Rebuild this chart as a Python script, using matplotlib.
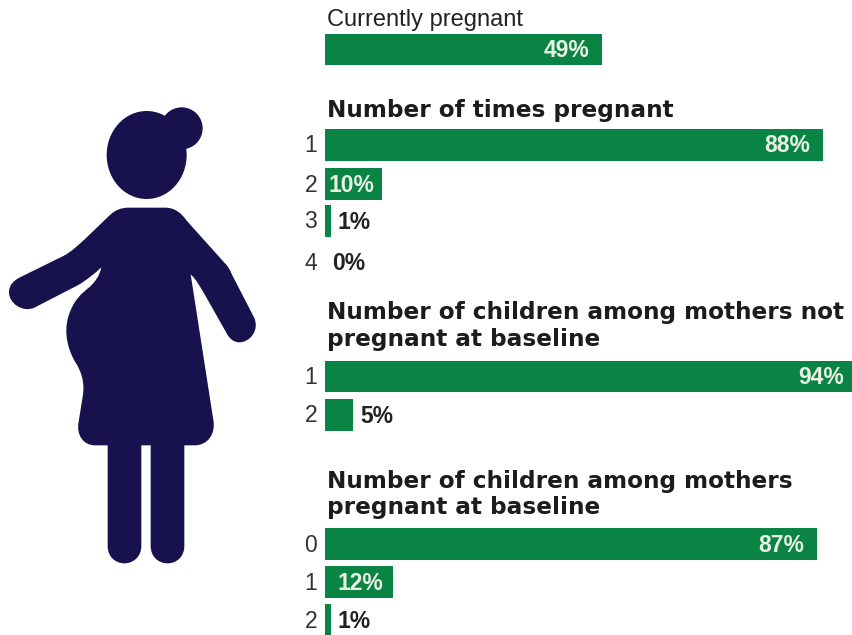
import matplotlib
matplotlib.use("Agg")
import matplotlib.pyplot as plt
from matplotlib.path import Path
from matplotlib.patches import PathPatch, Ellipse, Circle

W, H = 852, 635
GREEN = "#0a8444"
NAVY = "#17124d"
INK = "#1c1c1c"
LIGHT = "#e9f0e4"
SANS = "Liberation Sans"
HEAD_FONT = "DejaVu Sans"

current_labels = [""]
current_values = [49]
times_labels = ["1", "2", "3", "4"]
times_values = [88, 10, 1, 0]
notpreg_labels = ["1", "2"]
notpreg_values = [94, 5]
preg_labels = ["0", "1", "2"]
preg_values = [87, 12, 1]

heading_current = "Currently pregnant"
heading_times = "Number of times pregnant"
heading_notpreg = "Number of children among mothers not\npregnant at baseline"
heading_preg = "Number of children among mothers\npregnant at baseline"

# layout (pixels from top)
PX_PER_PCT = 5.66
X0 = 325
groups = [
    (current_labels, current_values, [49.5]),
    (times_labels, times_values, [145, 184, 221, 262]),
    (notpreg_labels, notpreg_values, [376.5, 415]),
    (preg_labels, preg_values, [544, 582, 620]),
]

fig = plt.figure(figsize=(W / 100, H / 100), dpi=100, facecolor="white")

# bars: x axis in percent, y axis in pixel rows
ax = fig.add_axes([0, 0, 1, 1])
ax.set_xlim(-X0 / PX_PER_PCT, (W - X0) / PX_PER_PCT)
ax.set_ylim(H, 0)
ax.axis("off")

def pct(px):
    return px / PX_PER_PCT

for labels, values, rows in groups:
    ax.barh(rows, values, height=31.5, left=0, color=GREEN, edgecolor="none", zorder=2)
    for lab, val, y in zip(labels, values, rows):
        if lab:
            ax.text(pct(-8), y + 1, lab, ha="right", va="center", fontsize=16.5,
                    family=SANS, color="#333333")
        txt = f"{val}%"
        if val > 8:
            off = 13 if val > 20 else (10 if val > 10 else 7)
            ax.text(val - pct(off), y + 1, txt, ha="right", va="center", fontsize=16.5,
                    family=SANS, fontweight="bold", color=LIGHT, zorder=3)
        else:
            ax.text(val + pct(7), y + 1.5, txt, ha="left", va="center", fontsize=16.5,
                    family=SANS, fontweight="bold", color="#222222", zorder=3)

ax.text(pct(2), 20, heading_current, ha="left", va="center", fontsize=17,
        family=SANS, color="#222222")
ax.text(pct(2), 110, heading_times, ha="left", va="center", fontsize=16.65,
        family=HEAD_FONT, fontweight="bold", color=INK)
ax.text(pct(2), 326, heading_notpreg, ha="left", va="center", fontsize=16.65,
        family=HEAD_FONT, fontweight="bold", color=INK, linespacing=1.2)
ax.text(pct(2), 494.5, heading_preg, ha="left", va="center", fontsize=16.65,
        family=HEAD_FONT, fontweight="bold", color=INK, linespacing=1.2)

# pictogram, drawn in pixel coordinates on its own overlay
ov = fig.add_axes([0, 0, 1, 1], facecolor="none")
ov.set_xlim(0, W)
ov.set_ylim(H, 0)
ov.axis("off")

def z(x, y):
    return (x / 3, 90 + y / 3)

M, L, C = Path.MOVETO, Path.LINETO, Path.CURVE4
outline = [
    (M, [(385, 353)]),
    (L, [(495, 353)]),
    (C, [(525, 353), (545, 370), (560, 392)]),
    (L, [(675, 520)]),
    (C, [(685, 530), (690, 540), (695, 552)]),
    (L, [(762, 682)]),
    (C, [(780, 720), (750, 757), (718, 757)]),
    (C, [(700, 757), (688, 745), (680, 730)]),
    (L, [(615, 615)]),
    (C, [(600, 590), (590, 570), (572, 553)]),
    (L, [(640, 990)]),
    (C, [(648, 1035), (620, 1066), (585, 1066)]),
    (L, [(553, 1066)]),
    (L, [(553, 1368)]),
    (C, [(553, 1400), (530, 1420), (503, 1420)]),
    (C, [(475, 1420), (452, 1400), (452, 1368)]),
    (L, [(452, 1066)]),
    (L, [(424, 1066)]),
    (L, [(424, 1368)]),
    (C, [(424, 1400), (400, 1420), (373, 1420)]),
    (C, [(346, 1420), (323, 1400), (323, 1368)]),
    (L, [(323, 1066)]),
    (L, [(285, 1066)]),
    (C, [(250, 1066), (228, 1035), (236, 995)]),
    (L, [(248, 920)]),
    (C, [(255, 880), (245, 845), (225, 815)]),
    (C, [(205, 780), (190, 730), (205, 680)]),
    (C, [(220, 630), (245, 610), (270, 590)]),
    (C, [(285, 575), (298, 560), (304, 532)]),
    (C, [(285, 550), (260, 570), (235, 585)]),
    (L, [(105, 652)]),
    (C, [(70, 670), (25, 640), (27, 605)]),
    (C, [(28, 585), (40, 572), (60, 562)]),
    (L, [(190, 498)]),
    (C, [(215, 485), (235, 465), (255, 447)]),
    (L, [(330, 375)]),
    (C, [(345, 360), (365, 353), (385, 353)]),
]
verts, codes = [], []
for code, pts in outline:
    for p in pts:
        verts.append(z(*p))
        codes.append(code)
verts.append(verts[0])
codes.append(Path.CLOSEPOLY)
ov.add_patch(PathPatch(Path(verts, codes), facecolor=NAVY, edgecolor="none"))
ov.add_patch(Ellipse(z(440, 195), 80, 88, facecolor=NAVY, edgecolor="none"))
ov.add_patch(Circle(z(545, 115), 21, facecolor=NAVY, edgecolor="none"))

fig.savefig("out.png", dpi=100, facecolor="white")
